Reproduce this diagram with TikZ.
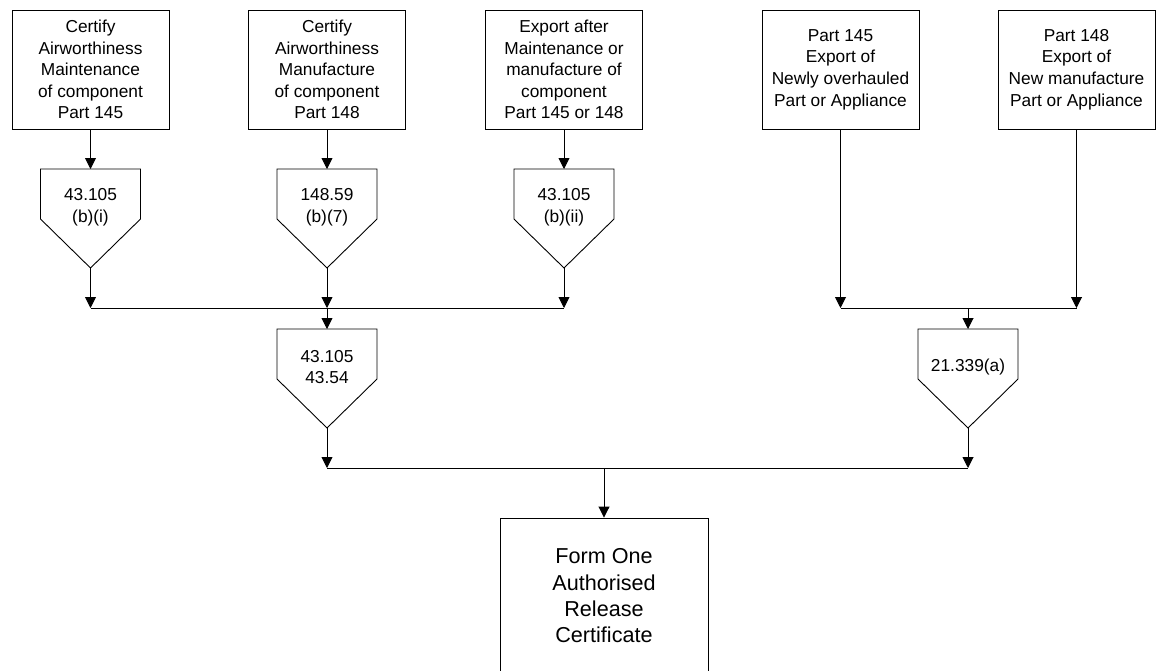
\documentclass[tikz,border=0pt]{standalone}
\usepackage{fontspec}
\setmainfont{Liberation Sans}
\usetikzlibrary{arrows.meta}
\newcommand{\boxfont}{\fontsize{17.3}{21.6}\selectfont}
\newcommand{\formfont}{\fontsize{21.6}{26.3}\selectfont}
\tikzset{
    line/.style={line width=0.9pt},
    flow/.style={line, -{Triangle[width=11pt,length=11pt]}},
    stepbox/.style={draw, line, rectangle, minimum width=157pt, minimum height=119pt,
        align=center, font=\boxfont, inner sep=0pt},
    offpage/.pic={
        \draw[line] (-50,0) -- (50,0) -- (50,50) -- (0,99) -- (-50,50) -- cycle;
        \node[align=center, font=\boxfont, inner sep=0pt] (-txt) at (0,38) {#1};
        \coordinate (-in) at (0,0);
        \coordinate (-out) at (0,99);
    }
}

\begin{document}
\begin{tikzpicture}[x=1pt, y=-1pt]
    \useasboundingbox (0,0) rectangle (1156,670);
    \clip (0,0) rectangle (1156,670);

    % top row
    \node[stepbox] (maint) at (90.5,69.5) {Certify\\Airworthiness\\Maintenance\\of component\\Part 145};
    \node[stepbox] (manuf) at (327,69.5) {Certify\\Airworthiness\\Manufacture\\of component\\Part 148};
    \node[stepbox] (export) at (564,69.5) {Export after\\Maintenance or\\manufacture of\\component\\Part 145 or 148};
    \node[stepbox] (overh) at (840.5,69.5) {Part 145\\Export of\\Newly overhauled\\Part or Appliance};
    \node[stepbox] (newman) at (1076.5,69.5) {Part 148\\Export of\\New manufacture\\Part or Appliance};

    % regulation references
    \pic (refA) at (90.5,169) {offpage={43.105\\(b)(i)}};
    \pic (refB) at (327,169) {offpage={148.59\\(b)(7)}};
    \pic (refC) at (564,169) {offpage={43.105\\(b)(ii)}};
    \pic (refD) at (327,329) {offpage={43.105\\43.54}};
    \pic (refE) at (968,329) {offpage={21.339(a)}};

    % release certificate
    \node[stepbox, minimum width=208pt, minimum height=156pt, font=\formfont] (form) at (604,596)
        {Form One\\Authorised\\Release\\Certificate};

    \coordinate (busTop) at (0,308);
    \coordinate (busLow) at (0,468);

    \draw[flow] (maint) -- (refA-in);
    \draw[flow] (manuf) -- (refB-in);
    \draw[flow] (export) -- (refC-in);
    \draw[flow] (refA-out) -- (refA-out |- busTop);
    \draw[flow] (refB-out) -- (refB-out |- busTop);
    \draw[flow] (refC-out) -- (refC-out |- busTop);
    \draw[line] (refA-out |- busTop) -- (refC-out |- busTop);
    \draw[flow] (refB-out |- busTop) -- (refD-in);

    \draw[flow] (overh) -- (overh |- busTop);
    \draw[flow] (newman) -- (newman |- busTop);
    \draw[line] (overh |- busTop) -- (newman |- busTop);
    \draw[flow] (refE-in |- busTop) -- (refE-in);

    \draw[flow] (refD-out) -- (refD-out |- busLow);
    \draw[flow] (refE-out) -- (refE-out |- busLow);
    \draw[line] (refD-out |- busLow) -- (refE-out |- busLow);
    \draw[flow] (form |- busLow) -- (form);
\end{tikzpicture}
\end{document}
